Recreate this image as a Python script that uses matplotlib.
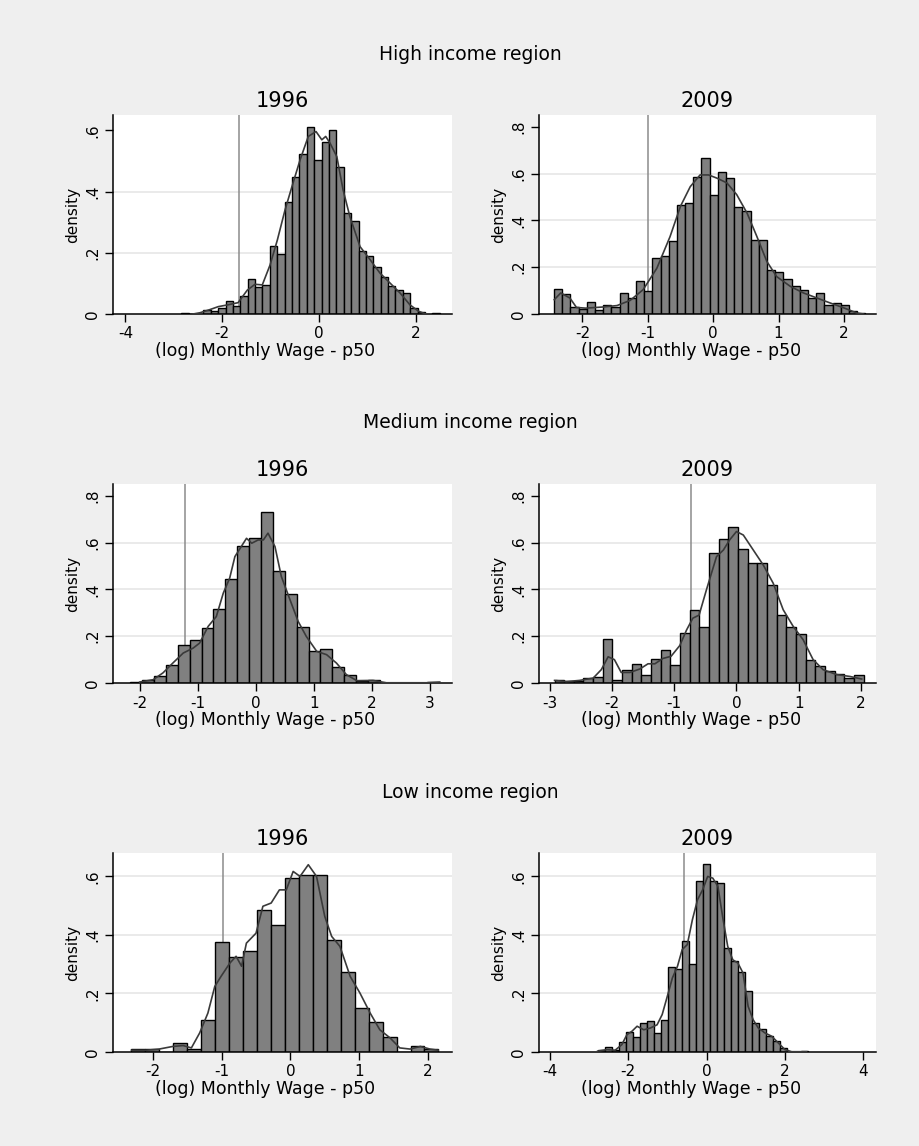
import numpy as np
import matplotlib.pyplot as plt

regions = ['High income region', 'Medium income region', 'Low income region']
years = ['1996', '2009']

# histogram: first bin edge, bin width, densities ; kdensity curve ; reference line
hi96_start, hi96_width = -2.846, 0.1527
hi96_dens = [0.003, 0.0, 0.0, 0.013, 0.009, 0.02, 0.042, 0.025, 0.059, 0.113, 0.089, 0.094,
             0.222, 0.196, 0.365, 0.449, 0.521, 0.612, 0.502, 0.562, 0.601, 0.48, 0.329, 0.303,
             0.205, 0.189, 0.152, 0.12, 0.09, 0.08, 0.07, 0.02, 0.008, 0.0, 0.002]
hi96_kx = [-2.6, -2.46, -2.26, -2.08, -1.88, -1.67, -1.48, -1.32, -1.17, -1.01, -0.86, -0.7,
           -0.55, -0.39, -0.22, -0.06, 0.06, 0.14, 0.23, 0.37, 0.5, 0.64, 0.85, 1.06, 1.26,
           1.47, 1.68, 1.88, 2.06, 2.19, 2.3]
hi96_ky = [0.0, 0.004, 0.014, 0.024, 0.03, 0.037, 0.078, 0.097, 0.095, 0.16, 0.241, 0.34,
           0.42, 0.503, 0.58, 0.596, 0.569, 0.58, 0.558, 0.514, 0.405, 0.318, 0.22, 0.177,
           0.134, 0.101, 0.068, 0.03, 0.009, 0.001, 0.0]
hi96_line = -1.655

hi09_start, hi09_width = -2.434, 0.1253
hi09_dens = [0.108, 0.085, 0.031, 0.021, 0.051, 0.018, 0.040, 0.030, 0.088, 0.068, 0.139,
             0.100, 0.240, 0.247, 0.310, 0.466, 0.473, 0.584, 0.668, 0.509, 0.608, 0.583,
             0.459, 0.438, 0.314, 0.314, 0.189, 0.179, 0.148, 0.118, 0.101, 0.070, 0.090,
             0.038, 0.048, 0.038, 0.013, 0.005]
hi09_kx = [-2.43, -2.33, -2.19, -2.09, -1.95, -1.68, -1.47, -1.27, -1.07, -0.86, -0.66, -0.5,
           -0.35, -0.2, -0.07, 0.06, 0.21, 0.36, 0.52, 0.67, 0.82, 0.97, 1.18, 1.38, 1.59,
           1.79, 2.0, 2.2, 2.3]
hi09_ky = [0.061, 0.09, 0.068, 0.028, 0.025, 0.03, 0.036, 0.058, 0.104, 0.196, 0.33, 0.46,
           0.544, 0.594, 0.594, 0.58, 0.56, 0.51, 0.43, 0.33, 0.225, 0.16, 0.118, 0.09, 0.068,
           0.047, 0.026, 0.004, 0.0]
hi09_line = -1.0

md96_start, md96_width = -2.161, 0.2046
md96_dens = [0.005, 0.013, 0.028, 0.078, 0.163, 0.185, 0.235, 0.315, 0.445, 0.585, 0.62, 0.73,
             0.48, 0.38, 0.24, 0.135, 0.145, 0.07, 0.035, 0.007, 0.012, 0.0, 0.0, 0.0, 0.0, 0.005]
md96_kx = [-2.0, -1.77, -1.6, -1.43, -1.25, -1.08, -0.97, -0.82, -0.68, -0.56, -0.45, -0.36,
           -0.25, -0.16, -0.07, 0.04, 0.13, 0.21, 0.33, 0.44, 0.59, 0.73, 0.87, 1.05, 1.22,
           1.39, 1.56, 1.74, 2.02, 2.25, 2.94, 3.17]
md96_ky = [0.004, 0.014, 0.043, 0.085, 0.128, 0.149, 0.17, 0.242, 0.284, 0.384, 0.448, 0.54,
           0.583, 0.618, 0.597, 0.611, 0.611, 0.64, 0.583, 0.455, 0.355, 0.263, 0.199, 0.135,
           0.121, 0.085, 0.036, 0.01, 0.011, 0.001, 0.001, 0.004]
md96_line = -1.224

md09_start, md09_width = -2.921, 0.1551
md09_dens = [0.014, 0.007, 0.007, 0.023, 0.027, 0.189, 0.014, 0.054, 0.082, 0.035, 0.102,
             0.139, 0.078, 0.213, 0.31, 0.24, 0.554, 0.614, 0.665, 0.574, 0.514, 0.514, 0.419,
             0.29, 0.24, 0.211, 0.098, 0.072, 0.05, 0.037, 0.023, 0.034]
md09_kx = [-2.92, -2.73, -2.52, -2.3, -2.17, -2.06, -1.96, -1.85, -1.71, -1.55, -1.42, -1.31,
           -1.18, -1.05, -0.91, -0.8, -0.7, -0.6, -0.48, -0.32, -0.21, -0.11, 0.0, 0.11, 0.27,
           0.43, 0.59, 0.75, 0.91, 1.07, 1.23, 1.39, 1.61, 1.82, 2.01]
md09_ky = [0.011, 0.006, 0.011, 0.021, 0.057, 0.112, 0.1, 0.045, 0.045, 0.06, 0.082, 0.082,
           0.105, 0.114, 0.16, 0.227, 0.277, 0.29, 0.4, 0.54, 0.568, 0.611, 0.647, 0.632,
           0.568, 0.504, 0.426, 0.313, 0.242, 0.185, 0.1, 0.057, 0.036, 0.028, 0.017]
md09_line = -0.723

lo96_start, lo96_width = -2.313, 0.203
lo96_dens = [0.009, 0.009, 0.0, 0.031, 0.01, 0.11, 0.375, 0.324, 0.344, 0.484, 0.435, 0.594,
             0.605, 0.605, 0.384, 0.272, 0.15, 0.101, 0.05, 0.0, 0.02, 0.01]
lo96_kx = [-2.31, -2.1, -1.91, -1.71, -1.56, -1.44, -1.32, -1.2, -1.1, -1.01, -0.88, -0.79,
           -0.71, -0.64, -0.5, -0.4, -0.28, -0.16, -0.06, 0.04, 0.14, 0.26, 0.38, 0.5, 0.6,
           0.72, 0.87, 1.01, 1.16, 1.3, 1.45, 1.59, 1.74, 1.89, 2.03, 2.15]
lo96_ky = [0.006, 0.006, 0.01, 0.019, 0.022, 0.014, 0.065, 0.133, 0.224, 0.258, 0.304, 0.327,
           0.293, 0.372, 0.406, 0.498, 0.509, 0.554, 0.554, 0.617, 0.6, 0.64, 0.6, 0.463,
           0.395, 0.361, 0.258, 0.202, 0.133, 0.076, 0.048, 0.014, 0.01, 0.019, 0.01, 0.006]
lo96_line = -0.98

lo09_start, lo09_width = -2.775, 0.1784
lo09_dens = [0.008, 0.017, 0.008, 0.033, 0.067, 0.05, 0.099, 0.105, 0.065, 0.11, 0.289, 0.285,
             0.381, 0.3, 0.583, 0.643, 0.583, 0.577, 0.354, 0.31, 0.272, 0.207, 0.1, 0.077,
             0.056, 0.036, 0.014, 0.0, 0.0, 0.003]
lo09_kx = [-2.775, -2.55, -2.33, -2.16, -2.03, -1.9, -1.77, -1.6, -1.43, -1.26, -1.13, -1.0,
           -0.87, -0.74, -0.62, -0.49, -0.36, -0.23, -0.1, 0.03, 0.16, 0.29, 0.41, 0.54, 0.67,
           0.8, 0.93, 1.06, 1.19, 1.32, 1.49, 1.66, 1.83, 2.0, 2.17, 2.55]
lo09_ky = [0.003, 0.008, 0.006, 0.025, 0.059, 0.071, 0.088, 0.076, 0.082, 0.093, 0.128, 0.19,
           0.253, 0.293, 0.35, 0.367, 0.452, 0.52, 0.554, 0.6, 0.594, 0.566, 0.463, 0.361,
           0.315, 0.304, 0.27, 0.156, 0.11, 0.082, 0.065, 0.054, 0.031, 0.008, 0.001, 0.001]
lo09_line = -0.575

panels = [
    (hi96_start, hi96_width, hi96_dens, hi96_kx, hi96_ky, hi96_line),
    (hi09_start, hi09_width, hi09_dens, hi09_kx, hi09_ky, hi09_line),
    (md96_start, md96_width, md96_dens, md96_kx, md96_ky, md96_line),
    (md09_start, md09_width, md09_dens, md09_kx, md09_ky, md09_line),
    (lo96_start, lo96_width, lo96_dens, lo96_kx, lo96_ky, lo96_line),
    (lo09_start, lo09_width, lo09_dens, lo09_kx, lo09_ky, lo09_line),
]

xlims = [(-4.255, 2.75), (-2.663, 2.49), (-2.46, 3.38), (-3.17, 2.24), (-2.58, 2.35), (-4.27, 4.32)]
ylims = [0.65, 0.85, 0.85, 0.85, 0.68, 0.68]
xtick_sets = [[-4, -2, 0, 2], [-2, -1, 0, 1, 2], [-2, -1, 0, 1, 2, 3],
              [-3, -2, -1, 0, 1, 2], [-2, -1, 0, 1, 2], [-4, -2, 0, 2, 4]]
ytick_sets = [[0, .2, .4, .6], [0, .2, .4, .6, .8], [0, .2, .4, .6, .8],
              [0, .2, .4, .6, .8], [0, .2, .4, .6], [0, .2, .4, .6]]


def ylab(v):
    return '0' if v == 0 else ('%.1f' % v).lstrip('0')


W, H = 920, 1146
fig = plt.figure(figsize=(W / 100, H / 100), dpi=100, facecolor='#efefef')

cols = [(113, 452), (539, 876)]
rows = [(115, 314), (484, 683), (853, 1052)]
region_y = [54, 423, 792]

for i, p in enumerate(panels):
    start, width, dens, kx, ky, vline = p
    r, c = divmod(i, 2)
    left, right = cols[c]
    top, bottom = rows[r]
    ax = fig.add_axes([left / W, 1 - bottom / H, (right - left) / W, (bottom - top) / H])
    ax.set_facecolor('white')

    edges = start + width * np.arange(len(dens))
    ax.bar(edges, dens, width=width, align='edge', color='#808080',
           edgecolor='black', linewidth=1.0, zorder=2)
    ax.plot(kx, ky, color='#3a3a3a', linewidth=1.2, zorder=3)
    ax.axvline(vline, color='#8c8c8c', linewidth=1.1, zorder=1)

    ax.set_xlim(*xlims[i])
    ax.set_ylim(0, ylims[i])
    xt = xtick_sets[i]
    ax.set_xticks(xt)
    ax.set_xticklabels([str(v) for v in xt])
    yt = ytick_sets[i]
    ax.set_yticks(yt)
    ax.set_yticklabels([ylab(v) for v in yt], rotation=90, va='center')
    for v in yt:
        if 0 < v < ylims[i] * 0.92:
            ax.axhline(v, color='#e6e6e6', linewidth=1.2, zorder=0)

    for s in ['top', 'right']:
        ax.spines[s].set_visible(False)
    for s in ['left', 'bottom']:
        ax.spines[s].set_color('black')
        ax.spines[s].set_linewidth(1.1)
    ax.tick_params(direction='out', length=6, width=1, labelsize=11, pad=3)

    ax.set_title(years[c], fontsize=15, pad=6)
    ax.set_xlabel('(log) Monthly Wage - p50', fontsize=12.5, va='top')
    ax.xaxis.set_label_coords(0.45, -0.14)
    ax.set_ylabel('density', fontsize=11, labelpad=4)

for r, name in enumerate(regions):
    fig.text(470 / W, 1 - region_y[r] / H, name, fontsize=13.5, ha='center', va='center')

fig.savefig('out.png', dpi=100, facecolor=fig.get_facecolor())
